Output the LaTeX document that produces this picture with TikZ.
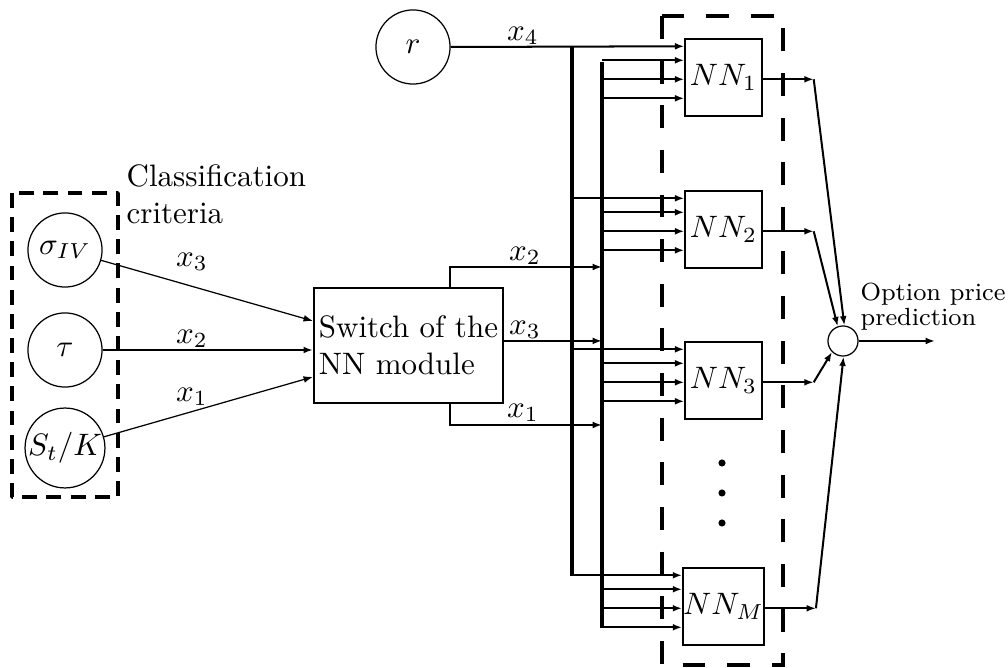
\documentclass[tikz,border=0pt]{standalone}
\usetikzlibrary{arrows.meta,calc}
\begin{document}
\begin{tikzpicture}[x=0.3226pt,y=-0.3226pt,
  every node/.style={font=\fontsize{10}{12}\selectfont},
  circ/.style={draw,circle,line width=0.4pt,minimum size=23.9pt,inner sep=0pt},
  nnbox/.style={draw,rectangle,line width=0.7pt,minimum width=24.6pt,minimum height=24.6pt,inner sep=0pt},
  arr/.style={-{Latex[length=3pt,width=2.2pt]},line width=0.65pt},
  thinarr/.style={-{Latex[length=3pt,width=2.2pt]},line width=0.4pt},
  bus/.style={line width=1.05pt},
  dboxl/.style={line width=1.1pt,line join=round,dash pattern=on 4.8pt off 3pt},
  dboxr/.style={line width=1.1pt,dash pattern=on 7.4pt off 7pt},
  lbl/.style={inner sep=0pt}
]
\useasboundingbox (0,0) rectangle (1008,668);

% left group
\node[circ] (sig) at (65,250) {$\sigma_{IV}$};
\node[circ] (tau) at (65,350) {$\tau$};
\node[circ] (stk) at (65,448) {$S_t/K$};
\draw[dboxl] (12,193) rectangle (118,497);
\node[anchor=west,align=left,inner sep=0pt] (cc) at (126,194) {Classification\\criteria};

% switch
\node[draw,line width=0.7pt,minimum width=61pt,minimum height=37.1pt,align=left,inner sep=1pt] (sw) at (408.5,345.5) {Switch of the\\NN module};

\draw[thinarr] (sig) -- ($(sw.north west)+(0,34)$);
\draw[arr] (tau.east) -- (tau.east -| sw.west);
\draw[thinarr] (stk) -- ($(sw.north west)+(0,90)$);
\node[lbl] (lx3) at (192,262) {$x_3$};
\node[lbl] (lx2) at (192,339) {$x_2$};
\node[lbl] (lx1) at (192,397) {$x_1$};

% r
\node[circ] (r) at (413,47) {$r$};

% NN boxes
\node[nnbox] (nn1) at (723.5,77.5) {$NN_1$};
\node[nnbox] (nn2) at (723.5,229.5) {$NN_2$};
\node[nnbox] (nn3) at (723.5,380.5) {$NN_3$};
\node[nnbox] (nnM) at (723.5,606.5) {$NN_M$};

% buses
\coordinate (b1) at (572,0);
\coordinate (b2) at (602,0);
\coordinate (b1t) at (572,47);
\coordinate (b1b) at (572,576);
\coordinate (b2t) at (602,62);
\coordinate (b2b) at (602,628);
\draw[bus] (b1t) -- (b1b);
\draw[bus] (b2t) -- (b2b);

% x4
\draw[arr] (r.east) -- ($(nn1.north west)+(0,8)$);
\node[lbl] (lx4) at (523,36) {$x_4$};

% inputs to NN boxes
\foreach \n in {nn2,nn3,nnM}{
  \coordinate (\n a) at ($(\n.north west)+(0,8)$);
  \draw[arr] (b1 |- \n a) -- (\n a);
}
\foreach \n in {nn1,nn2,nn3,nnM}{
  \foreach \d in {22,41,60}{
    \coordinate (t) at ($(\n.north west)+(0,\d)$);
    \draw[arr] (b2 |- t) -- (t);
  }
  \coordinate (\n e) at ($(\n.north east)+(0,41)$);
  \coordinate (\n o) at ($(\n e)+(51,0)$);
  \draw[arr] (\n e) -- (\n o);
}

% switch outputs
\coordinate (x2s) at ($(sw.north west)+(137,0)$);
\coordinate (x2e) at (602,267);
\draw[arr] (x2s) |- (x2e);
\node[lbl] (ox2) at (525,256) {$x_2$};
\coordinate (x3s) at ($(sw.north east)+(0,54)$);
\draw[arr] (x3s) -- (x3s -| b2);
\node[lbl] (ox3) at (525,330) {$x_3$};
\coordinate (x1s) at ($(sw.south west)+(137,0)$);
\coordinate (x1e) at (602,425);
\draw[arr] (x1s) |- (x1e);
\node[lbl] (ox1) at (523,413) {$x_1$};

% dots
\fill (722,463) circle (1.15pt);
\fill (722,493) circle (1.15pt);
\fill (722,523) circle (1.15pt);

% right dashed box
\draw[dboxr] (662,16) rectangle (783,665);

% sum
\node[draw,circle,line width=0.4pt,minimum size=9.7pt,inner sep=0pt] (sum) at (843,341) {};
\draw[arr] (nn1o) -- (sum.85);
\draw[arr] (nn2o) -- (sum.110);
\draw[arr] (nn3o) -- (sum.225);
\draw[arr] (nnMo) -- (sum.272);
\coordinate (out) at (935,341);
\draw[arr] (sum.east) -- (out);
\node[anchor=west,align=left,inner sep=0pt,font=\fontsize{8}{6.8}\selectfont] (opt) at (860,307) {Option price\\prediction};
\end{tikzpicture}
\end{document}
